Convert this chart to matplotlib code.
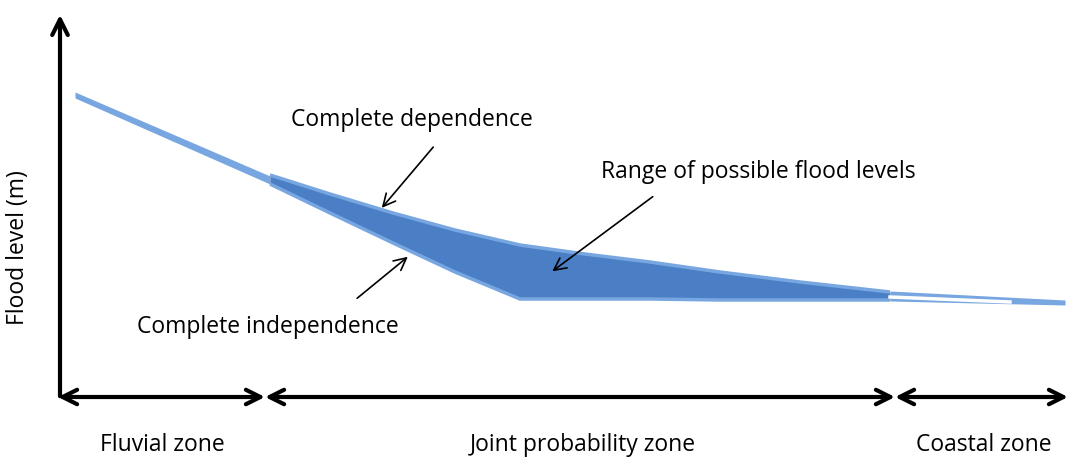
import numpy as np
import matplotlib.pyplot as plt

plt.rcParams['font.family'] = ['Open Sans', 'DejaVu Sans']

H = 462  # canvas height, level = H - pixel row

# fluvial reach (single thin line)
fluv_x = [75, 270]
fluv_up = [H - 92, H - 176]
fluv_lo = [H - 98, H - 184]

# joint probability reach: envelope between the two limits
joint_x = [270, 330, 393, 455, 520, 585, 650, 720, 800, 890]
dep_lvl = [H - 175, H - 194, H - 213, H - 230, H - 245, H - 254, H - 262, H - 272, H - 282, H - 292]
ind_lvl = [H - 184, H - 213, H - 243, H - 272, H - 299, H - 299, H - 299, H - 300, H - 300, H - 300]

# coastal reach
coast_x = [890, 1065]
coast_up = [H - 291, H - 300]
coast_lo = [H - 301, H - 305]

zone_edges = [58, 265, 895, 1068]
zone_labels = ['Fluvial zone', 'Joint probability zone', 'Coastal zone']
zone_label_x = [162, 583, 984]

fig = plt.figure(figsize=(10.71, 4.62), dpi=100)
ax = fig.add_axes([0, 0, 1, 1])
ax.set_xlim(0, 1071)
ax.set_ylim(0, H)
ax.axis('off')

light = '#78a6e0'
dark = '#4a7fc6'
fs = 16.5

ax.fill_between(fluv_x, fluv_lo, fluv_up, color=light, lw=0)
ax.fill_between(joint_x, ind_lvl, dep_lvl, color=dark, lw=0)
ax.plot(joint_x, dep_lvl, color=light, lw=2.5, solid_capstyle='butt')
ax.plot(joint_x, ind_lvl, color=light, lw=2.5, solid_capstyle='butt')
ax.fill_between(coast_x, coast_lo, coast_up, color=light, lw=0)
ax.plot([890, 1010], [H - 297, H - 302], color='white', lw=2.5)

# axes arrows
ax.annotate('', xy=(60, H - 12), xytext=(60, H - 399),
            arrowprops=dict(arrowstyle='->', lw=3, color='black', mutation_scale=28))
for a, b in zip(zone_edges[:-1], zone_edges[1:]):
    ax.annotate('', xy=(b, H - 397), xytext=(a, H - 397),
                arrowprops=dict(arrowstyle='<->', lw=3, color='black',
                                mutation_scale=26, shrinkA=0, shrinkB=0))

for lbl, x in zip(zone_labels, zone_label_x):
    ax.text(x, H - 445, lbl, ha='center', va='center', fontsize=fs)

ax.text(18, H - 248, 'Flood level (m)', rotation=90, ha='center', va='center', fontsize=fs)

# annotations
ann = dict(arrowstyle='->', lw=1.2, color='black', mutation_scale=22)
ax.text(412, H - 120, 'Complete dependence', ha='center', va='center', fontsize=fs)
ax.annotate('', xy=(380, H - 210), xytext=(435, H - 145), arrowprops=ann)
ax.text(268, H - 327, 'Complete independence', ha='center', va='center', fontsize=fs)
ax.annotate('', xy=(410, H - 255), xytext=(355, H - 300), arrowprops=ann)
ax.text(758, H - 172, 'Range of possible flood levels', ha='center', va='center', fontsize=fs)
ax.annotate('', xy=(550, H - 273), xytext=(655, H - 195), arrowprops=ann)

fig.savefig('out.png', dpi=100)
